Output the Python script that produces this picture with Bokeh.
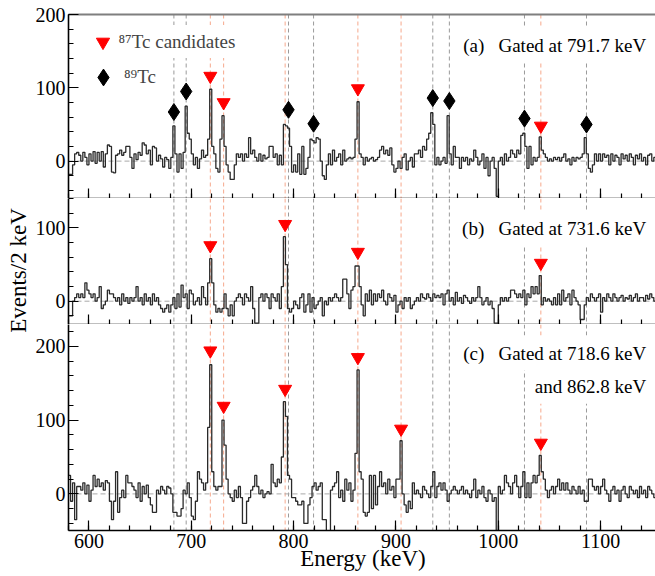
from bokeh.plotting import figure
from bokeh.models import (Range1d, Span, Label, LinearAxis, SingleIntervalTicker,
                          CustomJSTickFormatter, Legend, LegendItem)
from bokeh.layouts import row, column
from bokeh.embed import file_html
from bokeh.resources import INLINE

FONT = "Liberation Serif"

# ---------------- data ----------------
bin_start = 580      # keV, first bin edge
bin_width = 2        # keV per bin

counts_a = [
    -18, -18, -5, 10, 12, 8, 0, 12, 5, -5,
    10, 0, 13, -3, 12, 0, 13, -8, 10, 22,
    20, -15, -16, 8, 10, 15, 8, 12, 20, 20,
    5, -10, 10, 2, 12, 8, 25, 22, 10, 15,
    -5, 20, 18, 0, 8, 3, -8, 5, 2, -10,
    5, 48, 10, -15, 10, -10, 12, 75, 38, 30,
    10, -5, 5, -10, 3, 15, 5, 8, 30, 98,
    20, 10, -10, -15, 30, 62, 20, -5, -15, -25,
    -25, -5, 10, 5, 10, 0, 10, 5, 32, 10,
    15, 5, 0, 10, 0, 8, 3, 5, 20, 20,
    5, 10, -5, 8, -5, 50, 48, 45, 20, -15,
    -5, -15, 10, -18, 20, -18, -10, 5, 30, 28,
    25, 32, 30, 0, -20, -25, -5, 10, -5, 15,
    0, 5, 10, -5, 15, 0, 3, 5, 3, 5,
    30, 81, 10, 5, -5, 5, 0, 3, 5, 0,
    2, 5, 15, 20, 10, 15, 8, 18, -5, -15,
    -10, 0, -10, 5, 10, -12, 0, 5, -8, 10,
    10, 15, 5, 20, 15, 30, 38, 66, 50, -5,
    5, -5, 0, 5, -3, 62, 10, -5, 20, 5,
    5, -10, 5, 0, 5, -5, 3, 0, 15, 5,
    -5, 0, 10, -10, 5, -20, 0, 5, -10, -48,
    0, 5, -5, 10, 0, 5, 15, 10, 5, 15,
    10, 35, 38, 20, -10, 20, -5, 5, 0, 5,
    33, 15, 10, 5, 0, 3, 0, 5, 2, 5,
    0, 5, 10, 0, 3, -5, 5, 0, 5, 3,
    5, 10, 32, 10, -10, -15, -5, 10, 0, 10,
    0, 10, 5, 8, -5, 10, 0, 8, 5, -5,
    10, 3, 8, 0, 10, 5, -5, 8, 3, 10,
    0, 5, -5, 8, 10, 0, 5, 10,
]

counts_b = [
    -20, -20, 0, 5, 10, 5, 10, 5, 25, 15,
    10, 5, 10, 0, 5, 20, -10, -5, 0, 15,
    10, 10, 5, 0, 5, -5, 10, 0, 5, -3,
    5, 0, 5, 20, 0, 5, -5, 10, 0, 5,
    -5, 10, 0, 5, -5, -10, -15, -10, -5, -15,
    -5, 5, -10, 10, -8, 22, 5, 10, -10, 15,
    10, -5, 0, 5, -5, 20, 5, -5, 25, 58,
    25, -5, -15, -10, -15, -10, 10, -10, -20, -5,
    -20, 0, 5, 10, 5, -5, 10, 5, 0, 20,
    -10, -30, -30, 5, 10, 0, 10, 5, -10, 10,
    5, 0, 10, -10, 20, 88, 50, -10, -15, -10,
    0, -5, -10, 5, 10, -15, -5, 10, -15, 5,
    -10, -5, 0, 5, -20, 0, -5, 5, 0, 5,
    10, 5, 0, 5, 30, 30, 10, -10, 15, 20,
    48, 48, 20, -5, -20, 10, 0, 15, -5, 10,
    0, 10, 5, 15, 0, -5, 10, 5, 0, 8,
    -15, -5, 0, -10, 5, 0, 5, -10, -5, 0,
    5, 0, 10, 5, 3, 10, 5, 0, 10, 5,
    8, 5, 10, -5, 10, 15, 0, 5, -5, 12,
    0, 5, -3, 8, 5, 0, -3, 5, 0, 5,
    20, 5, -5, 0, 5, -5, 0, -10, -30, -30,
    -5, 5, 0, 5, 0, 5, 15, 15, 10, 5,
    10, 5, 15, -5, 10, 5, 20, 10, 20, 10,
    35, -5, 5, 0, 3, 0, -5, 5, -5, 10,
    -5, 15, 0, 5, 10, -5, 15, 5, 0, -5,
    -25, -25, -5, 5, 0, 10, 5, 0, 5, 10,
    -15, 5, 0, 10, 5, 0, 10, 5, 0, 5,
    8, 0, 5, 3, 8, 0, 5, 10, 0, 5,
    5, 0, 8, 3, 10, 5, 0, 5,
]

counts_c = [
    25, -10, 15, -35, 10, 10, 5, 15, 0, 12,
    -10, 5, 25, 10, 20, 10, 15, 5, 18, 15,
    -10, -35, -10, 30, -25, -5, 5, -5, 25, 15,
    15, 10, 5, -5, 15, -10, 10, 0, 12, -5,
    -15, -25, -25, 5, 0, 10, 5, 0, 10, 8,
    0, -25, -25, -30, -30, -20, 5, 0, 15, -5,
    -30, -35, -10, 30, 20, 15, 5, 15, 90, 175,
    30, 10, 5, 10, 10, 100, 66, 20, 0, -5,
    -10, 5, -5, 10, -5, -40, -40, -10, -5, 5,
    10, 25, 10, 0, 5, -5, 0, 3, 0, 40,
    15, 10, 20, 15, 50, 125, 105, 25, 20, -5,
    -5, -10, -15, -15, -10, -40, -40, -15, -5, 10,
    15, 5, 10, 15, -35, -35, -55, -55, 5, 10,
    15, 30, -5, 5, -10, 20, 5, 15, -10, 5,
    55, 168, 30, 20, -25, -30, -25, 25, -20, 25,
    -15, 10, 30, 10, 15, 0, 20, 5, 10, -5,
    20, 20, 72, 0, -15, -25, -10, -20, 15, 0,
    5, 0, -5, 10, 5, 0, -5, 10, 30, -5,
    10, 15, 5, 15, 5, -10, 0, 5, 10, 5,
    0, 5, 10, 0, 5, 0, -5, 5, 20, -5,
    5, 0, 10, -5, -10, 5, 0, -10, -5, -50,
    10, 0, 5, 25, 15, 10, 0, 15, 25, 10,
    -5, 10, 30, -5, 15, -5, 15, 25, 15, 25,
    52, 30, 20, 5, -5, 5, 10, 0, 10, 20,
    5, 15, 5, 15, 5, 0, 10, 5, 0, 10,
    0, 5, -10, -10, 20, 20, 10, 5, 10, 0,
    10, 20, 5, 0, -10, 5, 10, 0, 5, -10,
    5, 10, 0, -5, 10, 5, 0, 5, -5, 10,
    0, 5, -5, 10, 5, 0, -5, 10,
]

# transition energies marked by dashed lines (keV)
tc87_energies = [718.6, 731.6, 791.7, 862.8, 905.0, 1041.6]
tc89_energies = [683.0, 695.0, 795.0, 819.5, 936.0, 952.2, 1025.6, 1086.2]

# marker positions (energy, counts)
a_tc87_x = [718.6, 731.6, 862.8, 1041.6]
a_tc87_y = [116, 80, 99, 48]
a_tc89_x = [683.0, 695.0, 795.0, 819.5, 936.0, 952.2, 1025.6, 1086.2]
a_tc89_y = [67, 95, 70, 51, 86, 82, 58, 50]
b_tc87_x = [718.6, 791.7, 862.8, 1041.6]
b_tc87_y = [76, 105, 67, 52]
c_tc87_x = [718.6, 731.6, 791.7, 862.8, 905.0, 1041.6]
c_tc87_y = [194, 119, 142, 185, 88, 69]

legend_tc87 = "\u2078\u2077Tc candidates"
legend_tc89 = "\u2078\u2079Tc"
title_a = "(a)\u00a0\u00a0\u00a0Gated at 791.7 keV"
title_b = "(b)\u00a0\u00a0\u00a0Gated at 731.6 keV"
title_c1 = "(c)\u00a0\u00a0\u00a0Gated at 718.6 keV"
title_c2 = "and 862.8 keV"
x_title = "Energy (keV)"
y_title = "Events/2 keV"

# ---------------- styling ----------------
RED = "#ff0000"
GRAY_LINE = "#9a9a9a"
ORANGE_LINE = "#f6a88c"
HIST = "#2a2a2a"

x_range = Range1d(580, 1155.6)
FRAME_W = 589


def hide_labels(ax):
    ax.formatter = CustomJSTickFormatter(code="return ''")
    ax.major_label_text_font_size = "0px"
    ax.major_label_standoff = 0


def panel(counts, frame_h, y_start, y_end, top=0, bottom=0):
    p = figure(frame_width=FRAME_W, frame_height=frame_h, x_range=x_range,
               y_range=Range1d(y_start, y_end), output_backend="svg",
               toolbar_location=None, min_border_left=34, min_border_right=0,
               min_border_top=top, min_border_bottom=bottom)
    p.outline_line_color = None
    p.grid.visible = False
    p.border_fill_color = "white"
    p.background_fill_color = "white"
    for ax in (p.xaxis[0], p.yaxis[0]):
        ax.ticker = SingleIntervalTicker(interval=100, num_minor_ticks=5)
        ax.major_tick_in = 10
        ax.major_tick_out = 0
        ax.minor_tick_in = 5
        ax.minor_tick_out = 0
        ax.axis_line_width = 1.6
        ax.axis_line_color = "black"
        ax.major_tick_line_width = 1.2
        ax.minor_tick_line_width = 1.2
        ax.major_tick_line_color = "black"
        ax.minor_tick_line_color = "black"
        ax.major_label_text_font = FONT
        ax.major_label_text_font_size = "20px"
        ax.major_label_text_color = "black"
        ax.major_label_standoff = 3
    for e in tc89_energies:
        p.add_layout(Span(location=e, dimension="height", line_color=GRAY_LINE,
                          line_dash="4 3", line_width=1, level="underlay"))
    for e in tc87_energies:
        p.add_layout(Span(location=e, dimension="height", line_color=ORANGE_LINE,
                          line_dash="4 3", line_width=1, level="underlay"))
    p.add_layout(Span(location=0, dimension="width", line_color="#a8a8a8",
                      line_dash="5 3", line_width=1, level="underlay"))
    edges = [bin_start + bin_width * i for i in range(len(counts) + 1)]
    p.step(x=edges, y=list(counts) + [counts[-1]], mode="after",
           line_color=HIST, line_width=1.3)
    return p


def title_label(x, y, text):
    return Label(x=x, y=y, text=text, text_align="right", text_baseline="alphabetic",
                 text_font=FONT, text_font_size="19px", text_color="black",
                 background_fill_color="white", padding=7)


TITLE_X = 1151.4

# panel (a)
pa = panel(counts_a, 184, -51, 200, top=14, bottom=0)
hide_labels(pa.xaxis[0])
top_ax = LinearAxis(axis_line_color="#7f7f7f", axis_line_width=2,
                    major_tick_line_color=None, minor_tick_line_color=None,
                    major_tick_in=0, major_tick_out=0, minor_tick_in=0, minor_tick_out=0)
hide_labels(top_ax)
pa.add_layout(top_ax, "above")
r_tri_a = pa.scatter(a_tc87_x, a_tc87_y, marker="inverted_triangle", size=13,
                     fill_color=RED, line_color=RED)
r_dia_a = pa.scatter(a_tc89_x, a_tc89_y, marker="diamond", size=17,
                     fill_color="black", line_color="black")
pa.add_layout(title_label(TITLE_X, 158.2, title_a))

leg1 = Legend(items=[LegendItem(label=legend_tc87, renderers=[r_tri_a])],
              location=(17.5, 140), glyph_width=33, glyph_height=33,
              label_standoff=0, padding=0, margin=0, spacing=0,
              border_line_color=None, background_fill_color="white",
              background_fill_alpha=1.0, label_text_font=FONT,
              label_text_font_size="19px")
leg2 = Legend(items=[LegendItem(label=legend_tc89, renderers=[r_dia_a])],
              location=(14, 100.3), glyph_width=42, glyph_height=42,
              label_standoff=-6, padding=0, margin=0, spacing=0,
              border_line_color=None, background_fill_alpha=0.0,
              label_text_font=FONT, label_text_font_size="19px")
pa.add_layout(leg1)
pa.add_layout(leg2)

# panel (b)
pb = panel(counts_b, 126, -31.8, 140.1, top=0, bottom=0)
hide_labels(pb.xaxis[0])
pb.scatter(b_tc87_x, b_tc87_y, marker="inverted_triangle", size=13,
           fill_color=RED, line_color=RED)
pb.add_layout(title_label(TITLE_X, 99.5, title_b))

# panel (c)
pc = panel(counts_c, 206, -49.6, 229.5, top=0, bottom=46)
pc.scatter(c_tc87_x, c_tc87_y, marker="inverted_triangle", size=13,
           fill_color=RED, line_color=RED)
pc.add_layout(title_label(TITLE_X, 190.8, title_c1))
pc.add_layout(title_label(TITLE_X, 146.0, title_c2))
pc.xaxis[0].axis_label = x_title
pc.xaxis[0].axis_label_text_font = FONT
pc.xaxis[0].axis_label_text_font_size = "23px"
pc.xaxis[0].axis_label_text_font_style = "normal"
pc.xaxis[0].axis_label_text_color = "black"
pc.xaxis[0].axis_label_standoff = -5

# y title strip
TH = 576
TW = 32
ty = figure(width=TW, height=TH, x_range=Range1d(0, TW), y_range=Range1d(0, TH),
            output_backend="svg", toolbar_location=None, min_border=0,
            x_axis_location=None, y_axis_location=None)
ty.grid.visible = False
ty.outline_line_color = None
ty.border_fill_color = "white"
ty.add_layout(Label(x=17.5, y=TH - 270, text=y_title, angle=90, angle_units="deg",
                    text_align="center", text_baseline="middle",
                    text_font=FONT, text_font_size="23px", text_color="black"))

layout = row(ty, column(pa, pb, pc))

open("out.html", "w").write(file_html(layout, INLINE))
